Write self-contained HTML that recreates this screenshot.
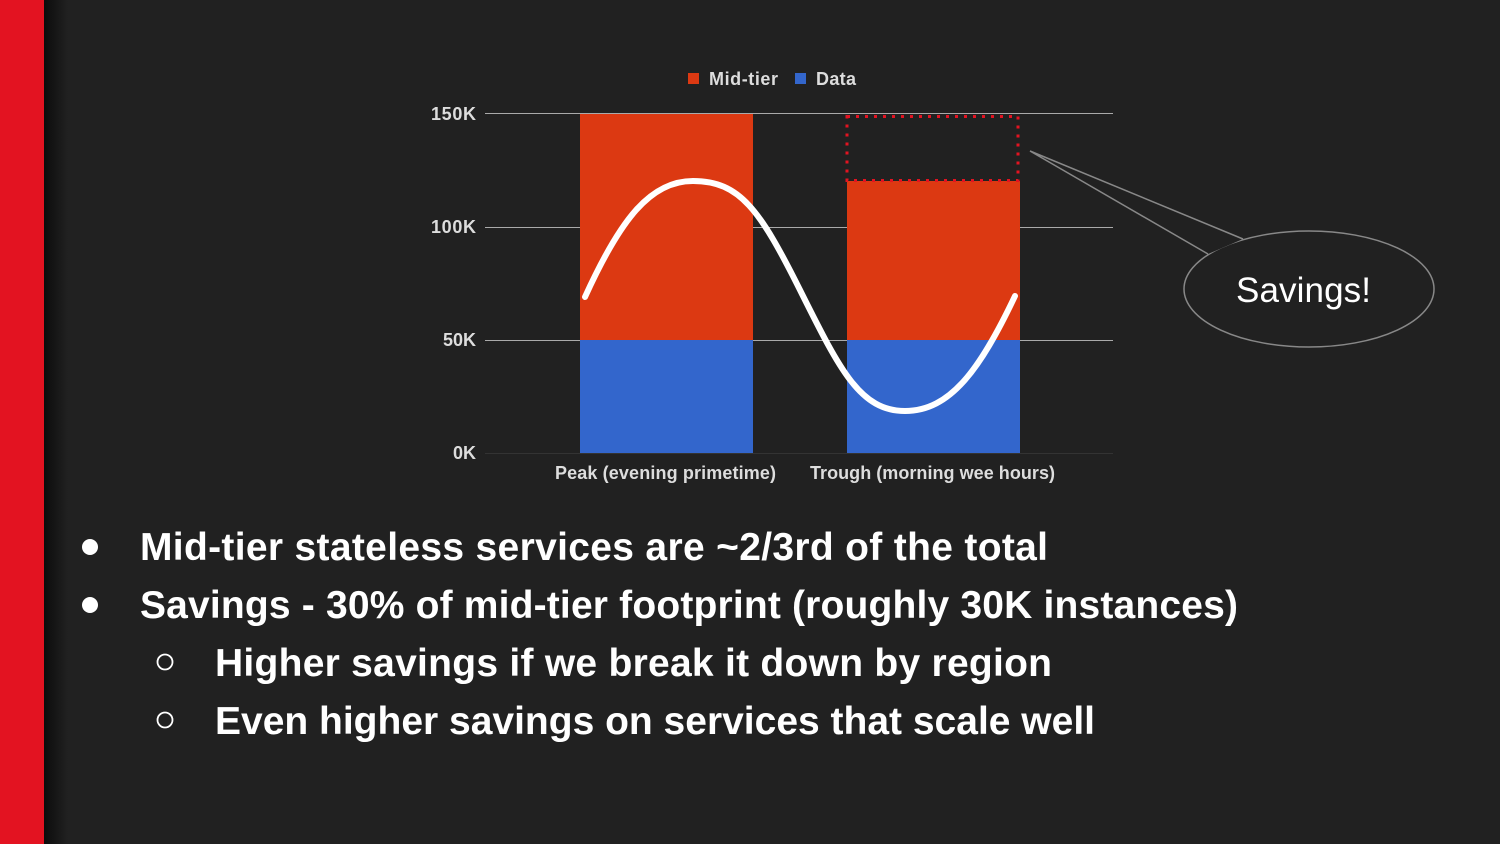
<!DOCTYPE html>
<html><head><meta charset="utf-8"><style>
body{margin:0;width:1500px;height:844px;background:#212121;overflow:hidden;font-family:"Liberation Sans",sans-serif;}
</style></head><body>
<svg width="1500" height="844" xmlns="http://www.w3.org/2000/svg" style="position:absolute;left:0;top:0">
<defs><linearGradient id="sh" x1="0" x2="1"><stop offset="0" stop-color="#0c0c0c"/><stop offset="1" stop-color="#212121"/></linearGradient></defs>
<rect x="0" y="0" width="1500" height="844" fill="#212121"/>
<rect x="44" y="0" width="24" height="844" fill="url(#sh)"/>
<rect x="0" y="0" width="44" height="844" fill="#e31321"/>
<g stroke="#aaa" stroke-width="1">
<line x1="485" y1="113.5" x2="1113" y2="113.5"/>
<line x1="485" y1="227.5" x2="1113" y2="227.5"/>
<line x1="485" y1="340.5" x2="1113" y2="340.5"/>
<line x1="485" y1="453.5" x2="1113" y2="453.5" stroke="#333"/>
</g>
<g font-weight="bold" font-size="18" fill="#ddd" text-anchor="end">
<text x="476" y="120" textLength="45">150K</text><text x="476" y="233" textLength="45">100K</text><text x="476" y="346">50K</text><text x="476" y="459">0K</text>
</g>
<rect x="580" y="114" width="173" height="226" fill="#dc3912"/>
<rect x="580" y="340" width="173" height="113" fill="#3366cc"/>
<rect x="847" y="181" width="173" height="159" fill="#dc3912"/>
<rect x="847" y="340" width="173" height="113" fill="#3366cc"/>
<rect x="847" y="116.5" width="171" height="64" fill="none" stroke="#e31321" stroke-width="3" stroke-dasharray="3,6"/>
<path d="M585,297 C620,220 650,181 693,181 C740,181 760,210 800,290 C840,370 860,411 905,411 C950,411 980,370 1015,296" fill="none" stroke="#fff" stroke-width="6" stroke-linecap="round"/>
<g font-weight="bold" font-size="18" fill="#ddd">
<text x="555" y="479" textLength="221">Peak (evening primetime)</text><text x="810" y="479" textLength="245">Trough (morning wee hours)</text>
</g>
<rect x="688" y="73" width="11" height="11" fill="#dc3912"/>
<text x="709" y="85" font-weight="bold" font-size="18" fill="#ddd" textLength="69">Mid-tier</text>
<rect x="795" y="73" width="11" height="11" fill="#3366cc"/>
<text x="816" y="85" font-weight="bold" font-size="18" fill="#ddd" textLength="40">Data</text>
<ellipse cx="1309" cy="289" rx="125" ry="58" fill="#212121" stroke="#888" stroke-width="1.5"/>
<path d="M1208,254 L1030,151 L1243,239" fill="#212121" stroke="#888" stroke-width="1.5"/>
<text x="1236" y="302" font-size="35" fill="#fff" textLength="135">Savings!</text>
<g fill="#fff"><circle cx="90" cy="547" r="8"/><circle cx="90" cy="605" r="8"/>
<circle cx="165" cy="662" r="7.5" fill="none" stroke="#fff" stroke-width="1.8"/>
<circle cx="165" cy="720" r="7.5" fill="none" stroke="#fff" stroke-width="1.8"/></g>
<g font-weight="bold" font-size="39" fill="#fff">
<text x="140" y="560" textLength="908">Mid-tier stateless services are ~2/3rd of the total</text>
<text x="140" y="618" textLength="1098">Savings - 30% of mid-tier footprint (roughly 30K instances)</text>
<text x="215" y="676" textLength="837">Higher savings if we break it down by region</text>
<text x="215" y="734" textLength="880">Even higher savings on services that scale well</text>
</g>
</svg>
</body></html>
